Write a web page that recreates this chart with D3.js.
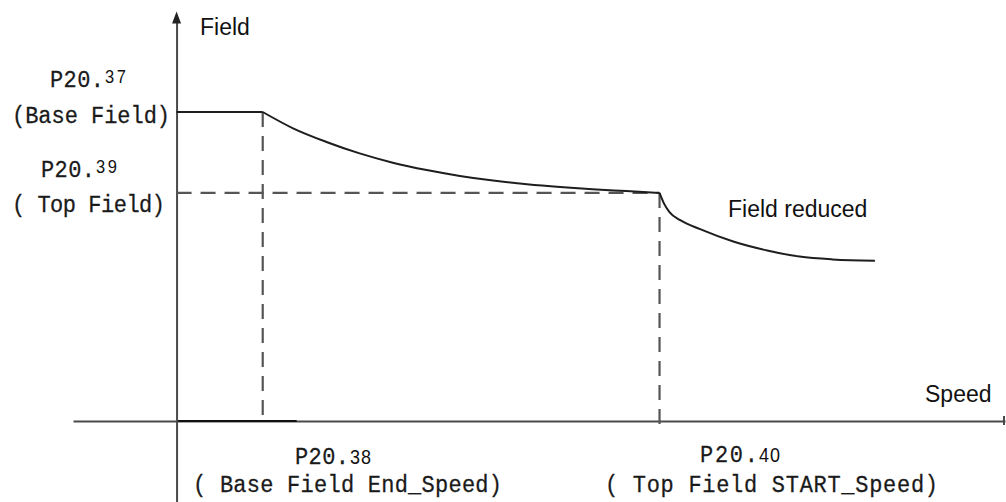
<!DOCTYPE html>
<html>
<head>
<meta charset="utf-8">
<script src="https://cdn.jsdelivr.net/npm/d3@7/dist/d3.min.js"></script>
<style>
  html, body { margin: 0; padding: 0; background: #fff; }
  svg { display: block; }
  .sans { font-family: "Liberation Sans", Arial, sans-serif; fill: #111; }
  .mono { font-family: "Liberation Mono", "Courier New", monospace; fill: #1a1a1a; stroke: #1a1a1a; stroke-width: 0.25; }
</style>
</head>
<body>
<script>
// ---- data (speed in arbitrary units, field relative to base field) ----
const baseField = 1.0;
const topField = 0.738;
const baseEndSpeed = 10.4;
const topStartSpeed = 58.3;

const flatSpeeds = [0, 10.4];
const flatFields = [1.0, 1.0];

const curve1Speeds = [10.4, 14.0, 18.1, 22.1, 26.1, 30.2, 34.2, 38.2, 42.3, 46.3, 50.2, 54.3, 58.3];
const curve1Fields = [1.0, 0.948, 0.903, 0.866, 0.836, 0.812, 0.793, 0.778, 0.766, 0.757, 0.750, 0.744, 0.738];

const curve2Speeds = [58.3, 58.8, 59.5, 60.8, 63.2, 67.2, 71.3, 75.2, 79.2, 84.3];
const curve2Fields = [0.738, 0.706, 0.676, 0.650, 0.621, 0.581, 0.552, 0.532, 0.523, 0.519];

const axisLabels = ["Field", "Speed"];
const curveLabel = "Field reduced";

const W = 1006, H = 502;
const svg = d3.select("body").append("svg").attr("width", W).attr("height", H);

const x = d3.scaleLinear().domain([-12.5, 100]).range([73, 1005]);
const y = d3.scaleLinear().domain([0, 1]).range([421, 112]);

const axisColor = "#4a4a4a";
const lineColor = "#1e1e1e";
const dashColor = "#555";

// ---- axes ----
const xAxisG = svg.append("g").attr("transform", `translate(0,${y(0)})`)
  .call(d3.axisBottom(x).tickValues([]).tickSizeOuter(0));
xAxisG.select(".domain").attr("stroke", axisColor).attr("stroke-width", 2);
svg.append("line")
  .attr("x1", x(0)).attr("x2", x(14.5))
  .attr("y1", y(0)).attr("y2", y(0))
  .attr("stroke", "#111").attr("stroke-width", 2);
svg.append("line")
  .attr("x1", x(100) - 1).attr("x2", x(100) - 1)
  .attr("y1", y(0) - 5).attr("y2", y(0) + 4)
  .attr("stroke", axisColor).attr("stroke-width", 2);

const yAxisG = svg.append("g").attr("transform", `translate(${x(0)},0)`)
  .call(d3.axisLeft(d3.scaleLinear().domain([-0.265, 1.29]).range([y(-0.265), y(1.29)])).tickValues([]).tickSizeOuter(0));
yAxisG.select(".domain").attr("stroke", axisColor).attr("stroke-width", 2);
const tipY = y(1.325);
svg.append("path")
  .attr("d", `M${x(0)},${tipY} L${x(0) - 4.5},${tipY + 12} L${x(0) + 4.5},${tipY + 12} Z`)
  .attr("fill", "#222");

// ---- dashed guides ----
const dash = "15,9";
svg.append("line")
  .attr("x1", x(0)).attr("x2", x(topStartSpeed))
  .attr("y1", y(topField)).attr("y2", y(topField))
  .attr("stroke", dashColor).attr("stroke-width", 2.2).attr("stroke-dasharray", dash);
svg.append("line")
  .attr("x1", x(baseEndSpeed)).attr("x2", x(baseEndSpeed))
  .attr("y1", y(baseField)).attr("y2", y(0))
  .attr("stroke", dashColor).attr("stroke-width", 2.2).attr("stroke-dasharray", dash);
svg.append("line")
  .attr("x1", x(topStartSpeed)).attr("x2", x(topStartSpeed))
  .attr("y1", y(topField)).attr("y2", y(0) + 4)
  .attr("stroke", dashColor).attr("stroke-width", 2.2).attr("stroke-dasharray", dash);

// ---- curves ----
const straight = d3.line().x(d => x(d[0])).y(d => y(d[1]));
const smooth = d3.line().x(d => x(d[0])).y(d => y(d[1])).curve(d3.curveMonotoneX);
svg.append("path")
  .attr("d", straight(flatSpeeds.map((s, i) => [s, flatFields[i]])))
  .attr("fill", "none").attr("stroke", lineColor).attr("stroke-width", 2);
svg.append("path")
  .attr("d", smooth(curve1Speeds.map((s, i) => [s, curve1Fields[i]])))
  .attr("fill", "none").attr("stroke", lineColor).attr("stroke-width", 2);
svg.append("path")
  .attr("d", smooth(curve2Speeds.map((s, i) => [s, curve2Fields[i]])))
  .attr("fill", "none").attr("stroke", lineColor).attr("stroke-width", 2);

// ---- texts ----
svg.append("text").attr("class", "sans").attr("x", 200).attr("y", 35)
  .attr("font-size", 23).text(axisLabels[0]);
svg.append("text").attr("class", "sans").attr("x", 925).attr("y", 402)
  .attr("font-size", 23).text(axisLabels[1]);
svg.append("text").attr("class", "sans").attr("x", 728).attr("y", 217)
  .attr("font-size", 23).text(curveLabel);

const SY = 1.12;
function paramLabel(px, py, head, tail, raise, headLen, tailSize) {
  const g = svg.append("g").attr("transform", `translate(${px},${py}) scale(1,${SY})`);
  g.append("text").attr("class", "mono").attr("x", 0).attr("y", 0).attr("font-size", 22)
    .attr("textLength", headLen).attr("lengthAdjust", "spacing").text(head);
  g.append("text").attr("class", "sans").attr("x", headLen + 1).attr("y", -raise / SY)
    .attr("font-size", tailSize).attr("fill", "#222").attr("textLength", 21).attr("lengthAdjust", "spacing").text(tail);
}
function monoLine(px, py, txt, len) {
  const g = svg.append("g").attr("transform", `translate(${px},${py}) scale(1,${SY})`);
  g.append("text").attr("class", "mono").attr("x", 0).attr("y", 0).attr("font-size", 22)
    .attr("textLength", len).attr("lengthAdjust", "spacing").text(txt);
}

paramLabel(50, 87, "P20.", "37", 4, 54, 16.5);
monoLine(12, 123, "(Base Field)", 158);
paramLabel(41, 177, "P20.", "39", 4, 54, 16.5);
monoLine(12, 212, "( Top Field)", 153);

paramLabel(295, 464, "P20.", "38", 0, 54, 18);
monoLine(193, 492, "( Base Field End_Speed)", 309);
paramLabel(700, 462, "P20.", "40", 0, 58, 18);
monoLine(605, 492, "( Top Field START_Speed)", 333);
</script>
</body>
</html>
